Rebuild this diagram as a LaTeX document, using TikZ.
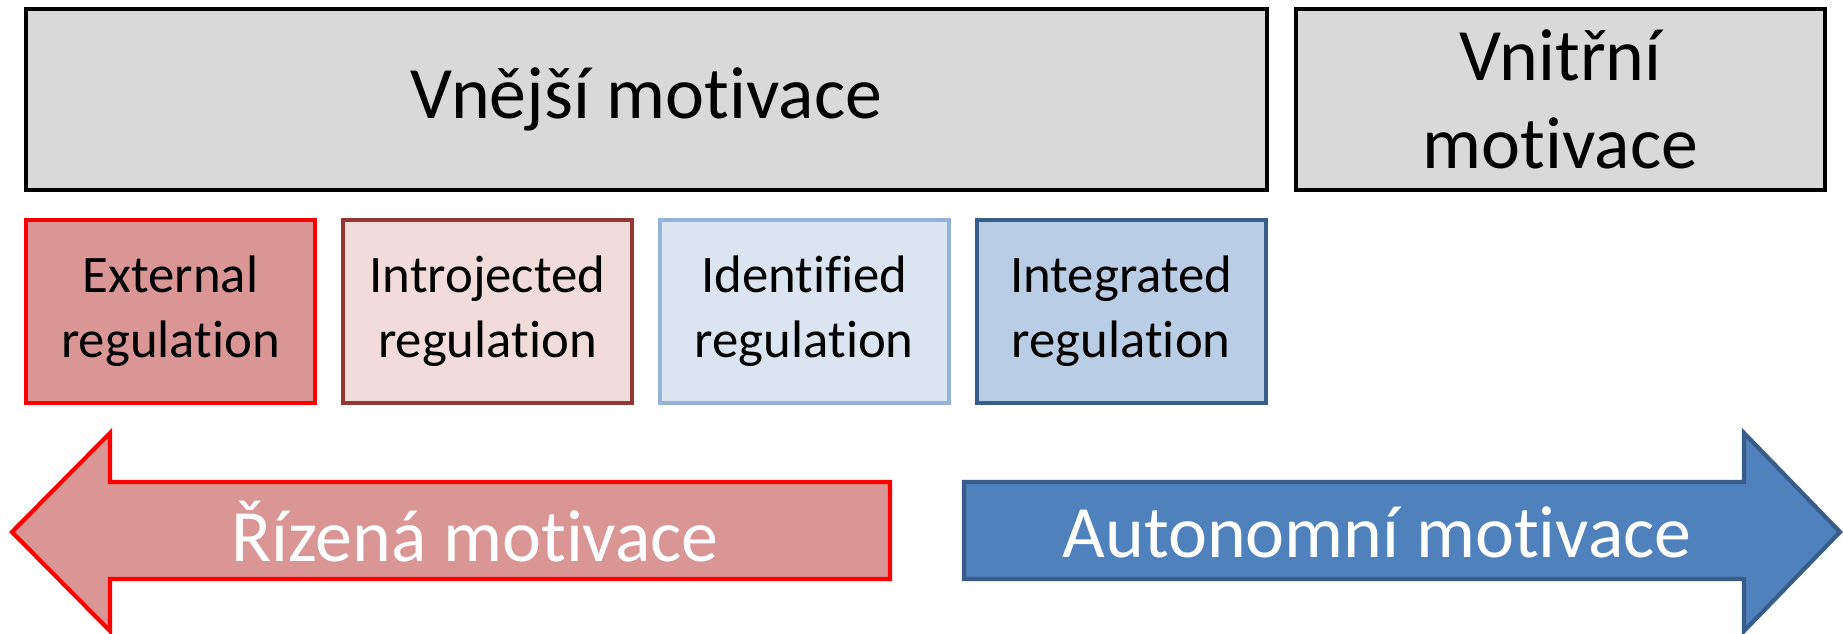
\documentclass[tikz,border=0pt]{standalone}
\usepackage{fontspec}
\setmainfont{Carlito}[Ligatures=NoCommon]
\usepackage{tikz}
\usetikzlibrary{positioning}
\definecolor{motivegray}{HTML}{D9D9D9}
\definecolor{extfill}{HTML}{D99694}
\definecolor{introfill}{HTML}{F2DCDB}
\definecolor{introdraw}{HTML}{953735}
\definecolor{identfill}{HTML}{DBE5F1}
\definecolor{identdraw}{HTML}{95B3D7}
\definecolor{integfill}{HTML}{B9CDE5}
\definecolor{bluedraw}{HTML}{385D8A}
\definecolor{bluefill}{HTML}{4F81BD}
\tikzset{
    big text/.style={font=\fontsize{21}{25}\selectfont},
    small text/.style={font=\fontsize{15}{18.5}\selectfont},
    motive box/.style={draw=black,fill=motivegray,line width=1.2pt,minimum height=1.81cm,align=center,big text},
    regulation box/.style={draw=#1,line width=1.2pt,minimum width=2.89cm,minimum height=1.83cm,align=center,small text},
    controlled arrow/.style={draw=red,fill=extfill,line width=1.2pt},
    autonomous arrow/.style={draw=bluedraw,fill=bluefill,line width=1.2pt},
    arrow label/.style={text=white,big text},
}

\begin{document}
\begin{tikzpicture}[x=0.01cm,y=-0.01cm]
        \useasboundingbox (0,0) rectangle (1843,633);
        % top row
        \node[motive box,minimum width=12.41cm] (extrinsic) at (646.5,99.5) {Vnější motivace};
        \node[motive box,minimum width=5.29cm] (intrinsic) at (1560.5,99.5) {Vnitřní\\motivace};
        % regulation styles
        \node[regulation box=red,fill=extfill] (external) at (170.5,311.5) {External\\regulation};
        \node[regulation box=introdraw,fill=introfill,right=0.235cm of external] (introjected) {Introjected\\regulation};
        \node[regulation box=identdraw,fill=identfill,right=0.235cm of introjected] (identified) {Identified\\regulation};
        \node[regulation box=bluedraw,fill=integfill,right=0.235cm of identified] (integrated) {Integrated\\regulation};
        % arrows
        \draw[controlled arrow] (12,532) -- (110,433) -- (110,482) -- (890,482) -- (890,579) -- (110,579) -- (110,631) -- cycle;
        \node[arrow label] (controlled) at (475,532) {Řízená motivace};
        \draw[autonomous arrow] (964,482) -- (1744,482) -- (1744,433) -- (1840,532) -- (1744,631) -- (1744,579) -- (964,579) -- cycle;
        \node[arrow label] (autonomous) at (1377,532) {Autonomní motivace};
    \end{tikzpicture}
\end{document}
